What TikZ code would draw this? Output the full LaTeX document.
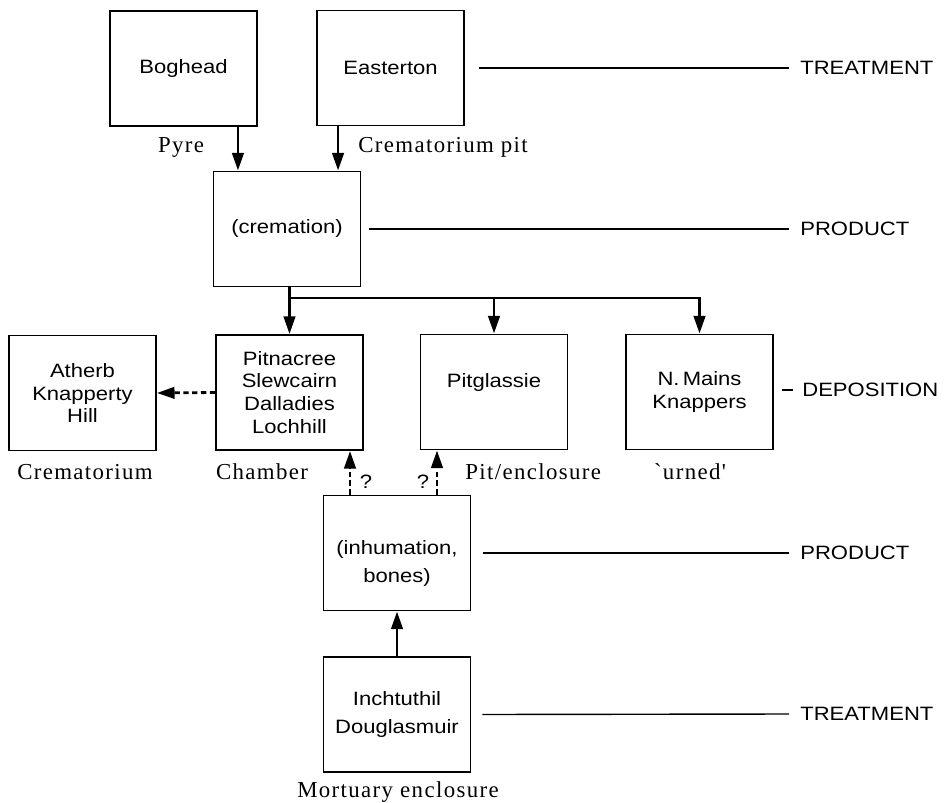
\documentclass[tikz,border=0pt]{standalone}
\usepackage{fontspec}
\setmainfont{Liberation Serif}
\newfontfamily\boxfont[FakeStretch=1.14]{Liberation Sans}
\newfontfamily\sitefont[LetterSpace=6]{Liberation Serif}
\usetikzlibrary{arrows.meta}

\begin{document}
\begin{tikzpicture}[x=0.02cm, y=-0.02cm]
	  \tikzstyle{site} = [draw, line width=1.1pt, minimum width=2.94cm, minimum height=2.3cm, align=center, inner sep=0pt, font=\boxfont\fontsize{11}{13}\selectfont]
	  \tikzstyle{where} = [inner sep=0pt, font=\sitefont\fontsize{13}{15}\selectfont]
	  \tikzstyle{stage} = [anchor=west, inner sep=0pt, font=\boxfont\fontsize{11}{12}\selectfont]
	  \tikzstyle{qmark} = [inner sep=0pt, font=\boxfont\fontsize{11}{12}\selectfont]
	  \tikzstyle{flow} = [line width=1.6pt, -{Triangle[length=10pt,width=6.5pt]}]
	  \tikzstyle{maybe} = [flow, dash pattern=on 3pt off 2pt]
	  \tikzstyle{leader} = [line width=0.8pt]
	  \useasboundingbox (0,0) rectangle (945,803);
	  % boxes
	  \node[site] (bog) at (183.5,68.5) {Boghead};
	  \node[site] (eas) at (390.5,68) {Easterton};
	  \node[site] (crem) at (287,229) {(cremation)};
	  \node[site] (ath) at (82.5,393) {Atherb\\Knapperty\\Hill};
	  \node[site] (pit) at (289.5,392.5) {Pitnacree\\Slewcairn\\Dalladies\\Lochhill};
	  \node[site] (pgl) at (494,392) {Pitglassie\\[0pt]\mbox{}};
	  \node[site] (nm) at (699.5,392) {N.\,Mains\\Knappers};
	  \node[site] (inh) at (397,553) {\rule{0pt}{20pt}(inhumation,\\[3pt]bones)};
	  \node[site] (inc) at (397,714.5) {Inchtuthil\\[3pt]Douglasmuir};
	  % site labels
	  \node[where] (pyre) at (181,147) {Pyre};
	  \node[where, anchor=west] (cpit) at (358,147) {Crematorium pit};
	  \node[where] (cremat) at (85,472) {Crematorium};
	  \node[where] (chamb) at (262,472) {Chamber};
	  \node[where, anchor=west] (pitenc) at (465,472) {Pit/enclosure};
	  \node[where] (urned) at (690,472) {`urned'};
	  \node[where] (mort) at (398,792) {Mortuary enclosure};
	  % stages
	  \node[stage] (tr1) at (800,68) {TREATMENT};
	  \node[stage] (pr1) at (800,229) {PRODUCT};
	  \node[stage] (dep) at (802,390) {DEPOSITION};
	  \node[stage] (pr2) at (800,553) {PRODUCT};
	  \node[stage] (tr2) at (800,714) {TREATMENT};
	  \draw[leader] ([xshift=0.28cm]eas.east) -- ([xshift=-0.22cm]tr1.west);
	  \draw[leader] ([xshift=0.16cm]crem.east) -- ([xshift=-0.22cm]pr1.west);
	  \draw[leader] ([xshift=0.16cm]nm.east |- dep.west) -- ([xshift=-0.18cm]dep.west);
	  \draw[leader] ([xshift=0.24cm]inh.east) -- ([xshift=-0.22cm]pr2.west);
	  \draw[leader] ([xshift=0.22cm]inc.east) -- ([xshift=-0.22cm]tr2.west);
	  % flows
	  \coordinate (bus) at (0,298);
	  \draw[flow] ([xshift=-0.4cm]bog.south east) -- ([xshift=-0.4cm]bog.south east |- crem.north);
	  \draw[flow] ([xshift=0.44cm]eas.south west) -- ([xshift=0.44cm]eas.south west |- crem.north);
	  \draw[flow] (crem.south -| pit.north) -- (pit.north);
	  \draw[flow] (pit.north |- bus) -- (nm.north |- bus) -- (nm.north);
	  \draw[flow] (pgl.north |- bus) -- (pgl.north);
	  \draw[maybe] (pit.west) -- (ath.east);
	  \draw[maybe] ([xshift=-0.94cm]inh.north) -- ([xshift=-0.94cm]inh.north |- pit.south);
	  \draw[maybe] ([xshift=0.8cm]inh.north) -- ([xshift=0.8cm]inh.north |- pgl.south);
	  \node[qmark] (q1) at (366,482) {?};
	  \node[qmark] (q2) at (423,482) {?};
	  \draw[flow] (inc.north) -- (inh.south);
	\end{tikzpicture}
\end{document}
